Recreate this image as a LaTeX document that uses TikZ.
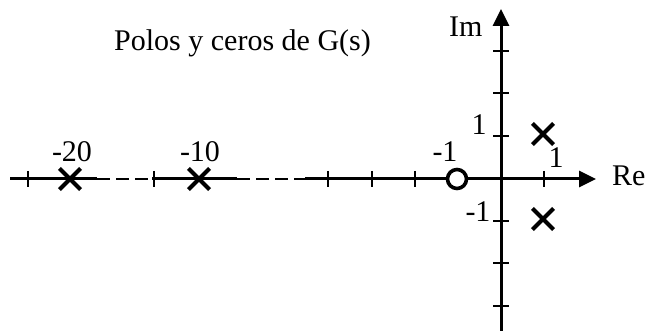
\documentclass[tikz,border=0pt]{standalone}
\usepackage{fontspec}
\setmainfont{Liberation Serif}
\usetikzlibrary{arrows.meta,shapes.misc}
\begin{document}
\begin{tikzpicture}[x=1pt,y=-1pt,
  axis/.style={line width=3pt},
  axarrow/.style={axis,-{Triangle[length=17pt,width=16pt]}},
  dashseg/.style={line width=2.8pt,dash pattern=on 13pt off 6pt},
  tick/.style={line width=1.8pt},
  pole/.style={cross out,draw,line width=4.2pt,minimum size=17pt,inner sep=0pt},
  zero/.style={circle,draw,fill=white,line width=3.6pt,minimum size=19pt,inner sep=0pt},
  lbl/.style={anchor=base,inner sep=0pt,font=\fontsize{30}{33}\selectfont}]
\useasboundingbox (0,0) rectangle (649,331);
% axis coordinates
\coordinate (xl) at (10,179);
\coordinate (d1a) at (97,179);
\coordinate (d1b) at (152,179);
\coordinate (d2a) at (237,179);
\coordinate (d2b) at (305,179);
\coordinate (xr) at (596,179);
\coordinate (yb) at (501,331);
\coordinate (yt) at (501,9);
% real axis
\draw[axis] (xl) -- (d1a);
\draw[dashseg] (d1a) -- (d1b);
\draw[axis] (d1b) -- (d2a);
\draw[dashseg] (d2a) -- (d2b);
\draw[axarrow] (d2b) -- (xr);
% imaginary axis
\draw[axarrow] (yb) -- (yt);
% ticks on real axis
\foreach \x in {28,154,328,372,415,458,544}
  \draw[tick] (\x,171) -- (\x,187);
% ticks on imaginary axis
\foreach \y in {51,93,136,221,263,306}
  \draw[tick] (493,\y) -- (509,\y);
% poles and zero
\node[pole] (p20) at (70,179) {};
\node[pole] (p10) at (199,179) {};
\node[pole] (p1) at (543,134) {};
\node[pole] (p2) at (543,219) {};
\node[zero] (z1) at (457,179) {};
% labels
\node[lbl,anchor=base west] (title) at (114,51) {Polos y ceros de G(s)};
\node[lbl,anchor=base west] (im) at (449,37) {Im};
\node[lbl,anchor=base west] (re) at (612,186) {Re};
\node[lbl] (l20) at (72,162) {-20};
\node[lbl] (l10) at (200,162) {-10};
\node[lbl] (lm1) at (445,162) {-1};
\node[lbl] (lr1) at (556,168) {1};
\node[lbl] (li1) at (479,135) {1};
\node[lbl] (lim1) at (478,222) {-1};
\end{tikzpicture}
\end{document}
